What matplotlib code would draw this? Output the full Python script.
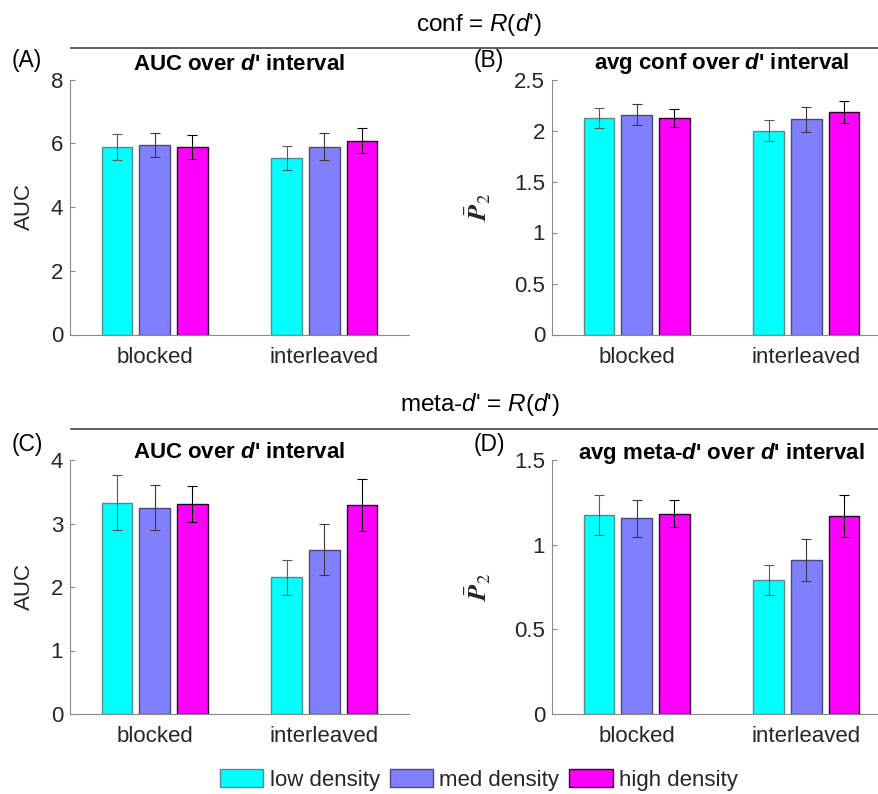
import matplotlib
matplotlib.use("Agg")
import matplotlib.pyplot as plt
from matplotlib.lines import Line2D
from matplotlib.patches import Patch
from matplotlib.ticker import FormatStrFormatter
import numpy as np

plt.rcParams['font.family'] = ['Liberation Sans', 'DejaVu Sans']
plt.rcParams['mathtext.fontset'] = 'custom'
plt.rcParams['mathtext.rm'] = 'Liberation Sans'
plt.rcParams['mathtext.it'] = 'Liberation Sans:italic'
plt.rcParams['mathtext.bf'] = 'Liberation Sans:bold'
try:
    plt.rcParams['mathtext.bfit'] = 'Liberation Sans:italic:bold'
    BFIT = True
except Exception:
    BFIT = False

# ---------------- data ----------------
groups = ['blocked', 'interleaved']
series = ['low density', 'med density', 'high density']

A_low, A_med, A_high = [5.88, 5.54], [5.95, 5.89], [5.89, 6.08]
A_low_err, A_med_err, A_high_err = [0.40, 0.37], [0.37, 0.42], [0.37, 0.40]

B_low, B_med, B_high = [2.12, 2.00], [2.155, 2.11], [2.125, 2.18]
B_low_err, B_med_err, B_high_err = [0.10, 0.107], [0.10, 0.12], [0.09, 0.107]

C_low, C_med, C_high = [3.33, 2.15], [3.25, 2.59], [3.31, 3.29]
C_low_err, C_med_err, C_high_err = [0.43, 0.27], [0.36, 0.40], [0.28, 0.41]

D_low, D_med, D_high = [1.176, 0.79], [1.155, 0.91], [1.184, 1.169]
D_low_err, D_med_err, D_high_err = [0.118, 0.09], [0.11, 0.123], [0.078, 0.125]

A_yticks = [0, 2, 4, 6, 8]
B_yticks = [0, 0.5, 1, 1.5, 2, 2.5]
C_yticks = [0, 1, 2, 3, 4]
D_yticks = [0, 0.5, 1, 1.5]

# ---------------- style ----------------
face = ['#00FFFF', '#8080FF', '#FF00FF']
edge = ['#5c8a8a', '#4a4a7a', '#2a002a']
errc = ['#5a5a5a', '#3a3a3a', '#000000']
spine_c = '#8a8a8a'
text_c = '#262626'

W, H = 879, 794
fig = plt.figure(figsize=(W / 100, H / 100), dpi=100)


def fx(px):
    return px / W


def fy(py):
    return 1 - py / H


d_sym = r'$\mathbfit{d}$' if BFIT else r'$\mathit{d}$'
P_label = r'$\bar{\mathbfit{P}}_{2}$'

panels = [
    dict(rect=(70, 79.5, 339, 255), means=(A_low, A_med, A_high), errs=(A_low_err, A_med_err, A_high_err),
         yticks=A_yticks, ylabel='AUC', title='AUC over ' + d_sym + "' interval", label='(A)',
         label_xy=(27, 60), title_y=64, ylab_x=35),
    dict(rect=(552, 79.5, 339, 255), means=(B_low, B_med, B_high), errs=(B_low_err, B_med_err, B_high_err),
         yticks=B_yticks, ylabel=P_label, title='avg conf over ' + d_sym + "' interval", label='(B)',
         label_xy=(489, 60), title_y=64, ylab_x=493),
    dict(rect=(70, 460, 339, 254), means=(C_low, C_med, C_high), errs=(C_low_err, C_med_err, C_high_err),
         yticks=C_yticks, ylabel='AUC', title='AUC over ' + d_sym + "' interval", label='(C)',
         label_xy=(27, 445), title_y=453, ylab_x=35),
    dict(rect=(552, 460, 339, 254), means=(D_low, D_med, D_high), errs=(D_low_err, D_med_err, D_high_err),
         yticks=D_yticks, ylabel=P_label, title='avg meta-' + d_sym + "' over " + d_sym + "' interval",
         label='(D)', label_xy=(489, 445), title_y=453, ylab_x=493),
]

x = np.arange(1, len(groups) + 1)
offsets = [-0.222, 0.0, 0.222]
bw = 0.18

for p in panels:
    l, t, w, h = p['rect']
    ax = fig.add_axes([fx(l), fy(t + h), w / W, h / H])
    for i in range(3):
        ax.bar(x + offsets[i], p['means'][i], width=bw, color=face[i], edgecolor=edge[i],
               linewidth=1.0, zorder=2)
        ax.errorbar(x + offsets[i], p['means'][i], yerr=p['errs'][i], fmt='none', ecolor=errc[i],
                    elinewidth=0.8, capsize=3.3, capthick=0.8, zorder=3)
    ax.set_xlim(0.5, 2.5)
    ax.set_ylim(p['yticks'][0], p['yticks'][-1])
    ax.set_yticks(p['yticks'])
    ax.yaxis.set_major_formatter(FormatStrFormatter('%g'))
    ax.set_xticks(x)
    ax.set_xticklabels(groups)
    for s in ['top', 'right']:
        ax.spines[s].set_visible(False)
    for s in ['left', 'bottom']:
        ax.spines[s].set_color(spine_c)
        ax.spines[s].set_linewidth(0.8)
    ax.tick_params(axis='y', direction='in', length=3.5, width=0.8, color=spine_c,
                   labelsize=16, labelcolor=text_c, pad=5)
    ax.tick_params(axis='x', length=0, labelsize=16, labelcolor=text_c, pad=9)
    if p['ylabel'] == 'AUC':
        ax.set_ylabel('AUC', fontsize=16, color=text_c)
    else:
        ax.set_ylabel(p['ylabel'], fontsize=19, color=text_c, math_fontfamily='stix')
    ax.yaxis.set_label_coords((p['ylab_x'] - l) / w, 0.5)
    # title
    fig.text(fx(l + 169.5), fy(p['title_y']), p['title'], fontsize=16, fontweight='bold',
             color='black', ha='center', va='center')
    fig.text(fx(p['label_xy'][0]), fy(p['label_xy'][1]), p['label'], fontsize=16.5,
             color='black', ha='center', va='center')

# section headers and rules
fig.text(fx(479), fy(24), r"conf = $\mathit{R}$($\mathit{d}$')", fontsize=17.5,
         ha='center', va='center', color='black')
fig.text(fx(479.5), fy(404), r"meta-$\mathit{d}$' = $\mathit{R}$($\mathit{d}$')", fontsize=17.5,
         ha='center', va='center', color='black')
for yy in (48, 428.5):
    fig.add_artist(Line2D([fx(71), fx(879)], [fy(yy), fy(yy)], color='#333333', lw=1.1,
                          transform=fig.transFigure))

# legend
handles = [Patch(facecolor=face[i], edgecolor=edge[i], linewidth=1.0) for i in range(3)]
fig.legend(handles, series, loc='center', bbox_to_anchor=(fx(479), fy(780)), ncol=3,
           frameon=False, fontsize=16, handlelength=1.95, handleheight=0.82,
           handletextpad=0.28, columnspacing=0.45, borderpad=0, labelcolor=text_c)

fig.savefig('out.png', dpi=100)
